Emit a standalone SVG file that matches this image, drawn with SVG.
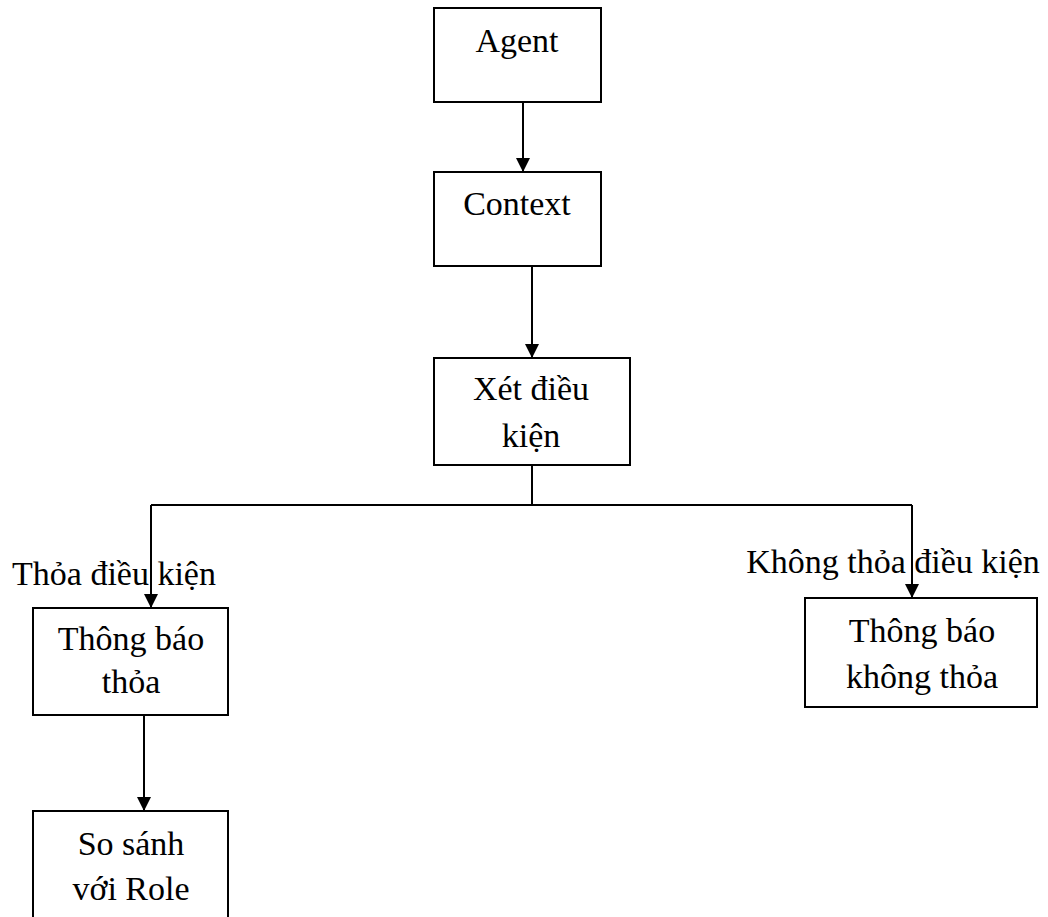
<svg xmlns="http://www.w3.org/2000/svg" width="1048" height="917" viewBox="0 0 1048 917">
  <style>
    .box { fill: #ffffff; stroke: #000000; stroke-width: 2; }
    .lbl { font-family: "Liberation Serif", "Times New Roman", serif; font-size: 34px; fill: #000000; text-anchor: middle; }
    .edge { fill: none; stroke: #000000; stroke-width: 2; }
    .arrow { marker-end: url(#head); }
  </style>
  <defs>
    <marker id="head" markerUnits="userSpaceOnUse" markerWidth="14" markerHeight="14" refX="14" refY="7" orient="auto">
      <path d="M0,0 L14,7 L0,14 z" fill="#000000"/>
    </marker>
  </defs>
  <rect width="1048" height="917" fill="#ffffff"/>

  <!-- connectors -->
  <g id="connectors">
    <path class="edge arrow" d="M523,102 L523,172"/>
    <path class="edge arrow" d="M532,266 L532,358"/>
    <path class="edge" d="M532,465 L532,505"/>
    <path class="edge" d="M151,505 L912,505"/>
    <path class="edge arrow" d="M151,505 L151,608"/>
    <path class="edge arrow" d="M912,505 L912,598"/>
    <path class="edge arrow" d="M144,715 L144,811"/>
    <text class="lbl" x="114" y="585">Thỏa điều kiện</text>
    <text class="lbl" x="893" y="573">Không thỏa điều kiện</text>
  </g>

  <g id="agent">
    <rect class="box" x="434" y="8" width="167" height="94"/>
    <text class="lbl" x="517" y="52">Agent</text>
  </g>

  <g id="context">
    <rect class="box" x="434" y="172" width="167" height="94"/>
    <text class="lbl" x="517" y="215">Context</text>
  </g>

  <g id="xet-dieu-kien">
    <rect class="box" x="434" y="358" width="196" height="107"/>
    <text class="lbl" x="531" y="400">Xét điều</text>
    <text class="lbl" x="531" y="447">kiện</text>
  </g>

  <g id="thong-bao-thoa">
    <rect class="box" x="33" y="608" width="195" height="107"/>
    <text class="lbl" x="131" y="650">Thông báo</text>
    <text class="lbl" x="131" y="693">thỏa</text>
  </g>

  <g id="thong-bao-khong-thoa">
    <rect class="box" x="805" y="598" width="232" height="109"/>
    <text class="lbl" x="922" y="642">Thông báo</text>
    <text class="lbl" x="922" y="688">không thỏa</text>
  </g>

  <g id="so-sanh-voi-role">
    <rect class="box" x="33" y="811" width="195" height="120"/>
    <text class="lbl" x="131" y="855">So sánh</text>
    <text class="lbl" x="131" y="900">với Role</text>
  </g>
</svg>
